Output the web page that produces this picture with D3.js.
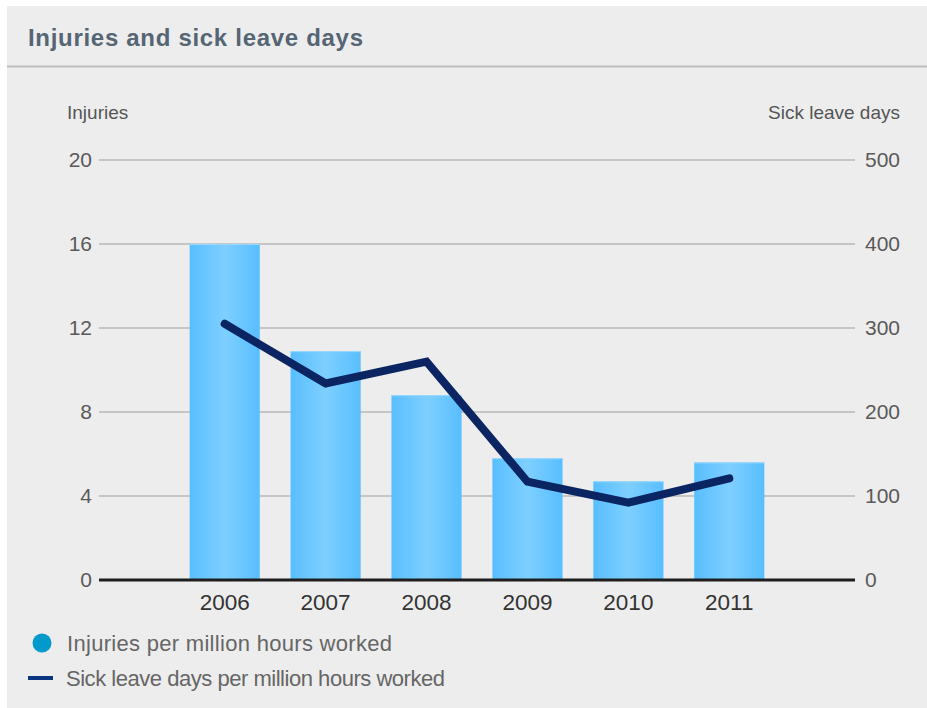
<!DOCTYPE html>
<html>
<head>
<meta charset="utf-8">
<script src="https://cdn.jsdelivr.net/npm/d3@7"></script>
<style>
  html, body { margin: 0; padding: 0; background: #ffffff; }
  svg { display: block; font-family: "Liberation Sans", Arial, sans-serif; }
</style>
</head>
<body>
<svg id="chart" width="927" height="708"></svg>
<script>
// Injuries and sick leave days per million hours worked, 2006-2011
const years = ["2006", "2007", "2008", "2009", "2010", "2011"];
const injuries = [16, 10.9, 8.8, 5.8, 4.7, 5.6];
const sickLeaveDays = [305, 234, 260, 117, 92, 121];
const leftTicks = [0, 4, 8, 12, 16, 20];
const rightTicks = [0, 100, 200, 300, 400, 500];

const svg = d3.select("#chart");

// panel background
svg.append("rect").attr("x", 7).attr("y", 6).attr("width", 920).attr("height", 702).attr("fill", "#ededed");

// title and separator
svg.append("text").attr("x", 28).attr("y", 46)
  .attr("font-size", 24).attr("font-weight", "bold").attr("fill", "#556574")
  .attr("textLength", 335).attr("lengthAdjust", "spacing")
  .text("Injuries and sick leave days");
svg.append("line").attr("x1", 7).attr("x2", 927).attr("y1", 66.5).attr("y2", 66.5)
  .attr("stroke", "#bdbdbd").attr("stroke-width", 2);

const x0 = 99, x1 = 855;
const yL = d3.scaleLinear().domain([0, 20]).range([580, 160]);
const yR = d3.scaleLinear().domain([0, 500]).range([580, 160]);
const xb = d3.scaleBand().domain(years).range([174.5, 779.5]).paddingInner(0.305).paddingOuter(0.15);

// gridlines
svg.append("g").selectAll("line").data(leftTicks.filter(d => d > 0)).join("line")
  .attr("x1", x0).attr("x2", x1)
  .attr("y1", d => yL(d)).attr("y2", d => yL(d))
  .attr("stroke", "#c6c6c6").attr("stroke-width", 2);

// left axis
const leftAxis = svg.append("g").attr("transform", `translate(${x0 - 7},0)`)
  .call(d3.axisLeft(yL).tickValues(leftTicks).tickSize(0).tickPadding(0));
leftAxis.select(".domain").remove();
leftAxis.selectAll("text").attr("font-size", 21).attr("fill", "#5a5a5a")
  .attr("font-family", "Liberation Sans, Arial, sans-serif");

// right axis
const rightAxis = svg.append("g").attr("transform", `translate(${x1 + 10},0)`)
  .call(d3.axisRight(yR).tickValues(rightTicks).tickSize(0).tickPadding(0));
rightAxis.select(".domain").remove();
rightAxis.selectAll("text").attr("font-size", 21).attr("fill", "#5a5a5a")
  .attr("font-family", "Liberation Sans, Arial, sans-serif");

// axis titles
svg.append("text").attr("x", 67).attr("y", 119).attr("font-size", 19).attr("fill", "#555")
  .text("Injuries");
svg.append("text").attr("x", 900).attr("y", 119).attr("font-size", 19).attr("fill", "#555")
  .attr("text-anchor", "end").text("Sick leave days");

// bar gradient
const defs = svg.append("defs");
const grad = defs.append("linearGradient").attr("id", "barGrad")
  .attr("x1", "0%").attr("x2", "100%").attr("y1", "0%").attr("y2", "0%");
grad.append("stop").attr("offset", "0%").attr("stop-color", "#58beff");
grad.append("stop").attr("offset", "50%").attr("stop-color", "#7ecfff");
grad.append("stop").attr("offset", "100%").attr("stop-color", "#58beff");

// bars
svg.append("g").selectAll("rect").data(years).join("rect")
  .attr("x", d => xb(d))
  .attr("width", xb.bandwidth())
  .attr("y", (d, i) => yL(injuries[i]))
  .attr("height", (d, i) => yL(0) - yL(injuries[i]))
  .attr("fill", "url(#barGrad)");
svg.append("g").selectAll("line").data(years).join("line")
  .attr("x1", d => xb(d)).attr("x2", d => xb(d) + xb.bandwidth())
  .attr("y1", (d, i) => yL(injuries[i]) + 0.5).attr("y2", (d, i) => yL(injuries[i]) + 0.5)
  .attr("stroke", "#9ad8ff").attr("stroke-width", 1);

// baseline
svg.append("line").attr("x1", x0).attr("x2", x1).attr("y1", 580).attr("y2", 580)
  .attr("stroke", "#1e1e1e").attr("stroke-width", 3);

// year labels
svg.append("g").selectAll("text").data(years).join("text")
  .attr("x", d => xb(d) + xb.bandwidth() / 2)
  .attr("y", 610)
  .attr("text-anchor", "middle").attr("font-size", 22.5).attr("fill", "#333")
  .text(d => d);

// sick leave line
const line = d3.line()
  .x((d, i) => xb(years[i]) + xb.bandwidth() / 2)
  .y(d => yR(d));
svg.append("path").datum(sickLeaveDays)
  .attr("d", line)
  .attr("fill", "none").attr("stroke", "#0b2462").attr("stroke-width", 8)
  .attr("stroke-linecap", "round").attr("stroke-linejoin", "miter");

// legend
svg.append("circle").attr("cx", 42).attr("cy", 643).attr("r", 9.5).attr("fill", "#0299cc");
svg.append("text").attr("x", 67).attr("y", 651).attr("font-size", 22).attr("fill", "#666")
  .attr("textLength", 325).attr("lengthAdjust", "spacing")
  .text("Injuries per million hours worked");
svg.append("line").attr("x1", 28).attr("x2", 53).attr("y1", 678).attr("y2", 678)
  .attr("stroke", "#0a3580").attr("stroke-width", 4);
svg.append("text").attr("x", 66).attr("y", 686).attr("font-size", 22).attr("fill", "#666")
  .attr("textLength", 379).attr("lengthAdjust", "spacing")
  .text("Sick leave days per million hours worked");
</script>
</body>
</html>
